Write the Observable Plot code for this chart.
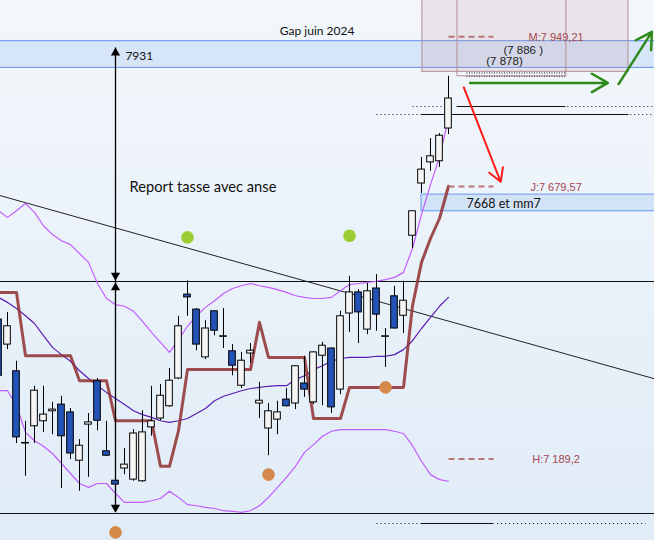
<!DOCTYPE html>
<html><head><meta charset="utf-8">
<script src="https://cdn.jsdelivr.net/npm/d3@7"></script>
<script src="https://cdn.jsdelivr.net/npm/@observablehq/plot@0.6"></script>
<style>
html,body{margin:0;padding:0;background:#eaf2f9;}
#chart{width:654px;height:540px;overflow:hidden;}
</style></head><body><div id="chart"></div>
<script>
// ---- Candles (one per session) ----
const opens  = [7440,7395,7347,7217,7248,7257,7275,7287,7273,7186,7251,7329,7203,7150,7172,7152,7149,7246,7262,7284,7334,7485,7458,7372,7455,7409,7383,7321,7379,7289,7244,7260,7296,7289,7325,7291,7375,7388,7314,7451,7489,7422,7496,7409,7482,7447,7591,7685,7723,7725,7784];
const highs  = [7453,7453,7365,7257,7320,7320,7291,7302,7280,7224,7271,7334,7257,7154,7208,7242,7276,7320,7323,7352,7446,7510,7460,7438,7456,7460,7395,7381,7397,7327,7289,7293,7316,7357,7374,7382,7399,7389,7455,7518,7494,7505,7521,7424,7500,7509,7636,7732,7766,7775,7878];
const lows   = [7330,7386,7217,7158,7217,7237,7233,7136,7188,7131,7156,7240,7194,7140,7161,7149,7147,7230,7258,7282,7332,7446,7384,7368,7411,7388,7339,7316,7361,7262,7195,7233,7283,7278,7300,7287,7285,7271,7305,7417,7397,7413,7419,7354,7423,7415,7568,7667,7707,7714,7773];
const closes = [7339,7428,7228,7218,7312,7269,7278,7230,7199,7213,7255,7258,7195,7143,7179,7235,7237,7257,7303,7330,7428,7480,7395,7424,7420,7410,7357,7366,7384,7294,7275,7273,7284,7356,7314,7381,7393,7282,7446,7489,7453,7491,7449,7410,7424,7474,7635,7710,7734,7771,7838];

// ---- Indicators ----
const brownLine  = [7489,7489,7489,7375,7375,7375,7375,7375,7375,7330,7330,7330,7330,7258,7258,7258,7258,7258,7176,7176,7240,7350,7350,7350,7350,7350,7350,7350,7350,7435,7372,7372,7372,7372,7372,7262,7262,7262,7262,7318,7318,7318,7318,7318,7318,7318,7465,7543,7586,7622,7680];
const bandUpper  = [7636,7624,7636,7649,7633,7609,7593,7582,7575,7559,7543,7505,7478,7467,7464,7455,7437,7417,7399,7381,7404,7428,7447,7462,7474,7487,7496,7501,7505,7501,7498,7494,7489,7483,7480,7478,7478,7480,7492,7503,7505,7507,7509,7512,7516,7525,7568,7629,7683,7732,7802];
const bandMiddle = [7480,7471,7460,7447,7433,7411,7390,7377,7365,7348,7334,7321,7309,7298,7287,7276,7269,7264,7258,7255,7258,7262,7271,7280,7294,7302,7307,7312,7316,7318,7320,7321,7321,7332,7339,7350,7357,7365,7370,7372,7372,7372,7374,7374,7377,7386,7402,7424,7444,7464,7480];
const bandLower  = [7312,7312,7285,7237,7222,7212,7199,7181,7163,7145,7138,7145,7145,7127,7111,7111,7111,7114,7118,7131,7120,7107,7105,7102,7100,7096,7095,7093,7096,7105,7120,7138,7156,7176,7201,7215,7230,7239,7242,7242,7242,7242,7242,7242,7239,7235,7213,7185,7161,7152,7149];

// ---- Markers ----
const greenDotBars = [21, 39];
const greenDotPrices = [7588, 7591];
const orangeDotBars = [13, 30, 43];
const orangeDotPrices = [7057, 7161, 7318];

// ---- Levels / annotations ----
const supportLevels = [7508.6, 7091];
const gapLow = 7894, gapHigh = 7942;
const zoneLow = 7635, zoneHigh = 7665;
const levelM = 7949.21, levelJ = 7679.57, levelH = 7189.2;
const box1Low = 7886, box2Low = 7878;
const targetPrice = 7931;

const N = opens.length;
const bars = d3.range(N).map(i => ({i, o: opens[i], h: highs[i], l: lows[i], c: closes[i]}));
const series = d3.range(N).map(i => ({i, brown: brownLine[i], up: bandUpper[i], mid: bandMiddle[i], lo: bandLower[i]}));

const X0 = 0.222, X1 = 72.89, Y0 = 7042.4, Y1 = 8014.4;
const FONT = "Lato, 'Open Sans', sans-serif";
const AR = "'Liberation Sans', Arial, sans-serif";

const chart = Plot.plot({
  width: 654, height: 540, margin: 0,
  x: {domain: [X0, X1], axis: null},
  y: {domain: [Y0, Y1], axis: null},
  color: {type: "identity"},
  style: {background: "linear-gradient(#f3f7fb, #e0ecf7)", overflow: "hidden"},
  marks: [
    // gap band
    Plot.rect([{x1: -1, x2: 75, y1: gapLow, y2: gapHigh}], {x1: "x1", x2: "x2", y1: "y1", y2: "y2", fill: "#c7daf6", fillOpacity: 0.6}),
    Plot.ruleY([gapLow, gapHigh], {stroke: "#5f8ff0", strokeWidth: 1}),
    // overlay boxes
    Plot.rect([{x1: 47.1, x2: 70.0, y1: box1Low, y2: 8040}], {x1: "x1", x2: "x2", y1: "y1", y2: "y2", fill: "#c49ca6", fillOpacity: 0.2, stroke: "#b48c94", strokeWidth: 1}),
    Plot.rect([{x1: 51.0, x2: 63.1, y1: box2Low, y2: 8040}], {x1: "x1", x2: "x2", y1: "y1", y2: "y2", fill: "none", stroke: "#b48c94", strokeWidth: 1}),
    Plot.link([{x1: 52, x2: 63, y1: box1Low - 2, y2: box1Low - 2}, {x1: 52, x2: 63, y1: box2Low, y2: box2Low}], {x1: "x1", x2: "x2", y1: "y1", y2: "y2", stroke: "#222", strokeDasharray: "1,1.5", strokeWidth: 1}),
    // zone band (7668 et mm7)
    Plot.rect([{x1: 47.0, x2: 75, y1: zoneLow, y2: zoneHigh}], {x1: "x1", x2: "x2", y1: "y1", y2: "y2", fill: "#cadcf6", fillOpacity: 0.75, stroke: "#6a98ee", strokeWidth: 1}),
    // support lines
    Plot.ruleY(supportLevels, {stroke: "#111", strokeWidth: 1}),
    // right-side level lines
    Plot.link([
      {x1: 50.9, x2: 63.0, y: 7823.6},
      {x1: 46.9, x2: 70.0, y: 7809.2},
      {x1: 46.9, x2: 55.0, y: 7073}
    ], {x1: "x1", x2: "x2", y1: "y", y2: "y", stroke: "#111", strokeWidth: 1}),
    Plot.link([
      {x1: 46.0, x2: 49.4, y: 7823.6}, {x1: 63.2, x2: 73, y: 7823.6},
      {x1: 42.0, x2: 46.7, y: 7809.2}, {x1: 70.2, x2: 73, y: 7809.2},
      {x1: 42.0, x2: 46.7, y: 7073}, {x1: 55.4, x2: 71.9, y: 7073}
    ], {x1: "x1", x2: "x2", y1: "y", y2: "y", stroke: "#111", strokeWidth: 1, strokeDasharray: "1,3"}),
    // trendline
    Plot.link([{x1: 0, y1: 7664, x2: 73, y2: 7333}], {x1: "x1", x2: "x2", y1: "y1", y2: "y2", stroke: "#222", strokeWidth: 1}),
    // Bollinger bands
    Plot.line(series, {x: "i", y: "up", stroke: "#c25cff", strokeWidth: 1.2}),
    Plot.line(series, {x: "i", y: "lo", stroke: "#c25cff", strokeWidth: 1.2}),
    Plot.line(series, {x: "i", y: "mid", stroke: "#5a1eb0", strokeWidth: 1.2}),
    // brown stepped line
    Plot.line(series, {x: "i", y: "brown", stroke: "#8f2f2f", strokeWidth: 3, strokeOpacity: 0.85}),
    // dashed level stubs
    Plot.link([{y: levelM}, {y: levelJ}, {y: levelH}], {x1: () => 50, x2: () => 55, y1: "y", y2: "y", stroke: "#b87676", strokeWidth: 2, strokeDasharray: "6,4"}),
    // vertical measuring arrow
    Plot.link([{x: 13, y1: 7094, y2: targetPrice - 1}], {x1: "x", x2: "x", y1: "y1", y2: "y2", stroke: "#000", strokeWidth: 1.3}),
    Plot.dot([{x: 13, y: targetPrice}, {x: 13, y: supportLevels[0]}], {x: "x", y: "y", symbol: "triangle", r: 3.4, fill: "#000", dy: 6}),
    Plot.dot([{x: 13, y: supportLevels[0]}, {x: 13, y: supportLevels[1]}], {x: "x", y: "y", symbol: "triangle", r: 3.4, fill: "#000", rotate: 180, dy: -6}),
    // candles
    Plot.ruleX(bars, {x: "i", y1: "l", y2: "h", stroke: "#000", strokeWidth: 1}),
    Plot.rect(bars, {x1: d => d.i - 0.37, x2: d => d.i + 0.37, y1: "o", y2: "c", fill: d => d.c >= d.o ? "#f5f5f5" : "#2453b6", stroke: "#000", strokeWidth: 1}),
    // fractal dots
    Plot.dot(greenDotBars.map((b, k) => ({x: b, y: greenDotPrices[k]})), {x: "x", y: "y", r: 6.3, fill: "#9acd32"}),
    Plot.dot(orangeDotBars.map((b, k) => ({x: b, y: orangeDotPrices[k]})), {x: "x", y: "y", r: 6.3, fill: "#d4884a"}),
    // arrows
    Plot.arrow([{x1: 52.4, y1: 7866, x2: 67.7, y2: 7866}, {x1: 68.9, y1: 7864, x2: 72.6, y2: 7958}], {x1: "x1", y1: "y1", x2: "x2", y2: "y2", stroke: "#2f8a1c", strokeWidth: 2.5, headLength: 11}),
    Plot.arrow([{x1: 51.7, y1: 7858, x2: 55.8, y2: 7688}], {x1: "x1", y1: "y1", x2: "x2", y2: "y2", stroke: "#ff1a1a", strokeWidth: 2, headLength: 11}),
    // texts
    Plot.text([{x: 35.4, y: 7958.6, t: "Gap juin 2024"}], {x: "x", y: "y", text: "t", fontSize: 12, fontFamily: FONT, fill: "#111"}),
    Plot.text([{x: 14.1, y: 7913.6, t: "7931"}], {x: "x", y: "y", text: "t", textAnchor: "start", fontSize: 12, fontFamily: FONT, fill: "#111"}),
    Plot.text([{x: 14.56, y: 7677.8, t: "Report tasse avec anse"}], {x: "x", y: "y", text: "t", textAnchor: "start", fontSize: 14.7, fontFamily: FONT, fill: "#111"}),
    Plot.text([{x: 52.0, y: 7649, t: "7668 et mm7"}], {x: "x", y: "y", text: "t", textAnchor: "start", fontSize: 12.5, fontFamily: FONT, fill: "#111"}),
    Plot.text([{x: 58.9, y: 7947.8, t: "M:7 949,21"}, {x: 59.1, y: 7678, t: "J:7 679,57"}, {x: 59.3, y: 7188.2, t: "H:7 189,2"}], {x: "x", y: "y", text: "t", textAnchor: "start", fontSize: 11, fontFamily: AR, fill: "#a5474f"}),
    Plot.text([{x: 56.1, y: 7924.4, t: "(7 886 )"}, {x: 54.2, y: 7904.6, t: "(7 878)"}], {x: "x", y: "y", text: "t", textAnchor: "start", fontSize: 11.5, fontFamily: AR, fill: "#222"})
  ]
});
document.getElementById("chart").appendChild(chart);
</script>
</body></html>
